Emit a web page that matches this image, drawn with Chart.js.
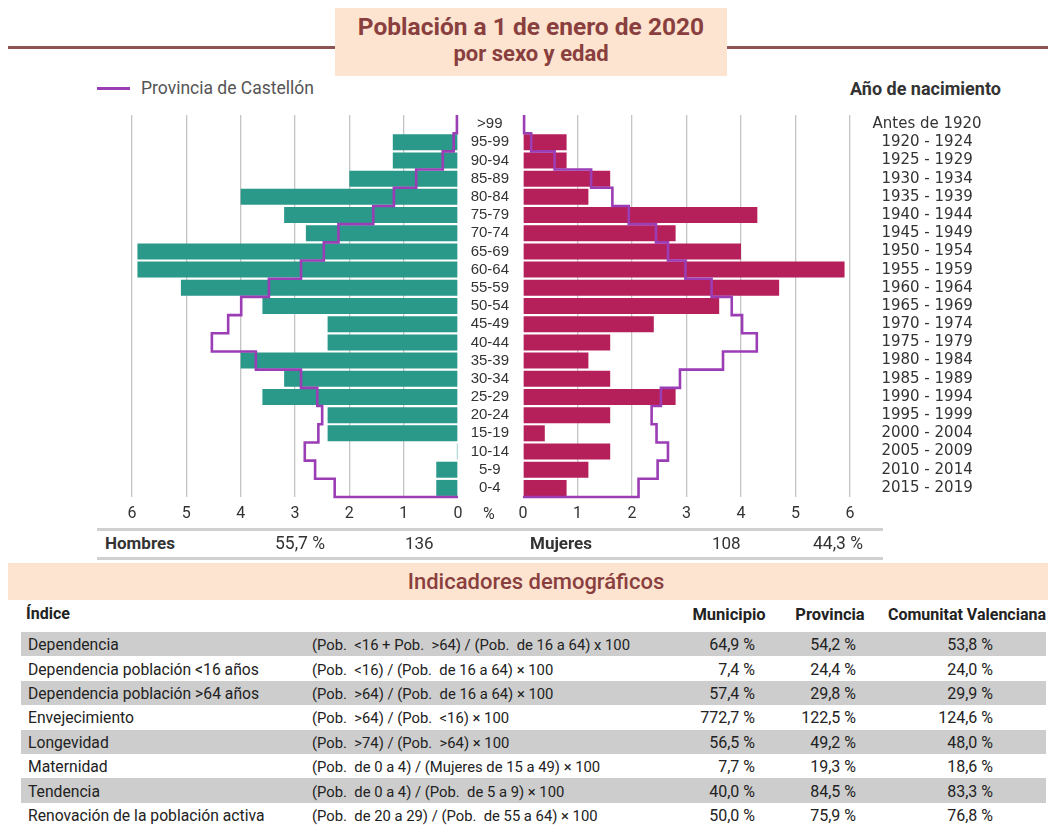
<!DOCTYPE html>
<html lang="es">
<head>
<meta charset="utf-8">
<title>Población a 1 de enero de 2020</title>
<script src="https://cdn.jsdelivr.net/npm/chart.js@4.4.1/dist/chart.umd.min.js"></script>
<style>
  body { margin: 0; background: #fff; font-family: Roboto, "Liberation Sans", sans-serif; color: #333; }
  #page { position: relative; width: 1051px; height: 825px; overflow: hidden; }
  .abs { position: absolute; white-space: pre; }
  .mid { transform: translateY(-50%); }
  #titlebox { position: absolute; left: 335px; top: 8px; width: 392px; height: 68px; background: #fde4d0; text-align: center; color: #8a3f3f; font-weight: bold; }
  canvas { position: absolute; top: 100px; }
  .row { position: absolute; left: 21px; width: 1025px; height: 24.4px; }
  .row.gray { background: #cdcdcd; }
  .cell { position: absolute; top: 50%; transform: translateY(-45%); white-space: pre; color: #222; }
</style>
</head>
<body>
<div id="page">
  <div class="abs" style="left:8px; top:46px; width:1040px; height:3px; background:#8e5454"></div>
  <div id="titlebox">
    <div style="font-size:24.5px; margin-top:4px; line-height:30px">Población a 1 de enero de 2020</div>
    <div style="font-size:22px; line-height:24px">por sexo y edad</div>
  </div>

  <div class="abs" style="left:97px; top:87px; width:33px; height:3px; background:#9b3db5"></div>
  <div class="abs mid" style="left:141px; top:88px; font-size:17.5px; color:#555">Provincia de Castellón</div>
  <div class="abs mid" style="left:850px; top:88px; font-size:18px; font-weight:bold; color:#333">Año de nacimiento</div>

  <canvas id="hombres" width="470" height="430" style="left:0"></canvas>
  <canvas id="mujeres" width="591" height="430" style="left:460px"></canvas>

  <div class="abs mid" style="left:483px; top:513px; font-size:16px; color:#333">%</div>

  <div class="abs" style="left:97px; top:528px; width:786px; height:3px; background:#d0d0d0"></div>
  <div class="abs" style="left:97px; top:557px; width:786px; height:3px; background:#d0d0d0"></div>
  <div class="abs mid" style="left:105px; top:543px; font-size:17px; font-weight:bold">Hombres</div>
  <div class="abs mid" style="left:275px; top:543px; font-size:17.5px">55,7 %</div>
  <div class="abs mid" style="left:405px; top:543px; font-size:17px">136</div>
  <div class="abs mid" style="left:530px; top:543px; font-size:17px; font-weight:bold">Mujeres</div>
  <div class="abs mid" style="left:712px; top:543px; font-size:17px">108</div>
  <div class="abs mid" style="left:813px; top:543px; font-size:17.5px">44,3 %</div>

  <div class="abs" style="left:8px; top:563px; width:1040px; height:37px; background:#fde4d0"></div>
  <div class="abs mid" style="left:0; width:1072px; text-align:center; top:581px; font-size:22px; font-weight:500; color:#8a3f3f">Indicadores demográficos</div>

  <div class="abs mid" style="left:26px; top:613px; font-size:16px; font-weight:bold; color:#222">Índice</div>
  <div class="abs mid" style="left:689px; width:80px; text-align:center; top:614px; font-size:16.5px; font-weight:bold; color:#222">Municipio</div>
  <div class="abs mid" style="left:790px; width:80px; text-align:center; top:614px; font-size:16.5px; font-weight:bold; color:#222">Provincia</div>
  <div class="abs mid" style="left:887px; width:160px; text-align:center; top:614px; font-size:16px; font-weight:bold; color:#222">Comunitat Valenciana</div>
  <div id="tabla"></div>
</div>

<script>
// grupos de edad (de arriba abajo) y años de nacimiento
var ageGroups = ['>99', '95-99', '90-94', '85-89', '80-84', '75-79', '70-74', '65-69', '60-64', '55-59', '50-54',
                 '45-49', '40-44', '35-39', '30-34', '25-29', '20-24', '15-19', '10-14', '5-9', '0-4'];
var birthYears = ['Antes de 1920', '1920 - 1924', '1925 - 1929', '1930 - 1934', '1935 - 1939', '1940 - 1944',
                  '1945 - 1949', '1950 - 1954', '1955 - 1959', '1960 - 1964', '1965 - 1969', '1970 - 1974',
                  '1975 - 1979', '1980 - 1984', '1985 - 1989', '1990 - 1994', '1995 - 1999', '2000 - 2004',
                  '2005 - 2009', '2010 - 2014', '2015 - 2019'];

// % municipio
var hombres = [0, 1.2, 1.2, 2.0, 4.0, 3.2, 2.8, 5.9, 5.9, 5.1, 3.6, 2.4, 2.4, 4.0, 3.2, 3.6, 2.4, 2.4, 0.02, 0.4, 0.4];
var mujeres = [0, 0.8, 0.8, 1.6, 1.2, 4.3, 2.8, 4.0, 5.9, 4.7, 3.6, 2.4, 1.6, 1.2, 1.6, 2.8, 1.6, 0.4, 1.6, 1.2, 0.8];

// % Provincia de Castellón
var provHombres = [0.02, 0.08, 0.28, 0.77, 1.18, 1.56, 2.2, 2.47, 2.89, 3.48, 3.99, 4.23, 4.53, 3.72, 2.89, 2.59, 2.5, 2.57, 2.82, 2.63, 2.27];
var provMujeres = [0.02, 0.15, 0.58, 1.25, 1.64, 1.94, 2.44, 2.66, 2.98, 3.46, 3.83, 4.02, 4.29, 3.67, 2.88, 2.53, 2.36, 2.45, 2.66, 2.47, 2.12];

var xTicks = [0, 1, 2, 3, 4, 5, 6];

// tabla de indicadores
var indices = ['Dependencia', 'Dependencia población <16 años', 'Dependencia población >64 años', 'Envejecimiento',
               'Longevidad', 'Maternidad', 'Tendencia', 'Renovación de la población activa'];
var formulas = ['(Pob.  <16 + Pob.  >64) / (Pob.  de 16 a 64) x 100', '(Pob.  <16) / (Pob.  de 16 a 64) × 100',
                '(Pob.  >64) / (Pob.  de 16 a 64) × 100', '(Pob.  >64) / (Pob.  <16) × 100',
                '(Pob.  >74) / (Pob.  >64) × 100', '(Pob.  de 0 a 4) / (Mujeres de 15 a 49) × 100',
                '(Pob.  de 0 a 4) / (Pob.  de 5 a 9) × 100', '(Pob.  de 20 a 29) / (Pob.  de 55 a 64) × 100'];
var municipio = ['64,9 %', '7,4 %', '57,4 %', '772,7 %', '56,5 %', '7,7 %', '40,0 %', '50,0 %'];
var provincia = ['54,2 %', '24,4 %', '29,8 %', '122,5 %', '49,2 %', '19,3 %', '84,5 %', '75,9 %'];
var comunitat = ['53,8 %', '24,0 %', '29,9 %', '124,6 %', '48,0 %', '18,6 %', '83,3 %', '76,8 %'];

var teal = '#2a998a', magenta = '#b6205a', purple = '#9b3db5';

Chart.defaults.font.family = 'Roboto';
Chart.defaults.animation = false;
Chart.defaults.plugins.legend.display = false;
Chart.defaults.plugins.tooltip.enabled = false;

// escalones verticales: cada grupo ocupa su banda completa
function stepPoints(values) {
    var pts = [];
    values.forEach(function (v, i) {
        pts.push({ x: v, y: i - 0.5 });
        pts.push({ x: v, y: i + 0.5 });
    });
    pts.push({ x: 0, y: values.length - 0.5 });
    return pts;
}

function xScale(reverse) {
    return {
        type: 'linear', reverse: reverse, min: xTicks[0], max: xTicks[xTicks.length - 1],
        afterBuildTicks: function (s) { s.ticks = xTicks.map(function (v) { return { value: v }; }); },
        ticks: { font: { size: 16 }, color: '#333', padding: 7 },
        grid: {
            drawTicks: false, lineWidth: 1.3,
            color: function (ctx) { return ctx.tick && ctx.tick.value === 0 ? 'rgba(0,0,0,0)' : '#c4c4c4'; }
        },
        border: { display: false },
        afterFit: function (s) { s.height = 33; }
    };
}

// las etiquetas de los ejes verticales no deben empujar el área del gráfico
function fixWidth(w) {
    return function (s) { s.width = w; s.paddingTop = 0; s.paddingBottom = 0; };
}

function lineScale() {
    return { type: 'linear', display: false, offset: false, min: -0.5, max: ageGroups.length - 0.5, reverse: true };
}

function datasets(values, prov, color) {
    return [
        { type: 'line', data: stepPoints(prov), borderColor: purple, borderWidth: 2.6, pointRadius: 0,
          yAxisID: 'yLine', xAxisID: 'x', order: 0, clip: 4, borderJoinStyle: 'miter' },
        { type: 'bar', data: values, backgroundColor: color, barPercentage: 0.88, categoryPercentage: 1,
          grouped: false, yAxisID: 'y', xAxisID: 'x', order: 1 }
    ];
}

new Chart(document.getElementById('hombres'), {
    type: 'bar',
    data: { labels: ageGroups, datasets: datasets(hombres, provHombres, teal) },
    options: {
        responsive: false, devicePixelRatio: 1, indexAxis: 'y',
        layout: { padding: { left: 132, right: 12, top: 15, bottom: 0 } },
        scales: {
            x: xScale(true),
            y: { type: 'category', display: false, offset: true },
            yLine: lineScale()
        }
    }
});

new Chart(document.getElementById('mujeres'), {
    type: 'bar',
    data: { labels: ageGroups, datasets: datasets(mujeres, provMujeres, magenta) },
    options: {
        responsive: false, devicePixelRatio: 1, indexAxis: 'y',
        layout: { padding: { left: 0, right: 0, top: 15, bottom: 0 } },
        scales: {
            x: xScale(false),
            y: {
                type: 'category', position: 'left', offset: true,
                grid: { display: false, drawTicks: false }, border: { display: false },
                ticks: { autoSkip: false, font: { family: 'Liberation Sans', size: 15 }, color: '#333', crossAlign: 'center', padding: 14 },
                afterFit: fixWidth(63)
            },
            years: {
                type: 'category', position: 'right', labels: birthYears, offset: true,
                grid: { display: false, drawTicks: false }, border: { display: false },
                ticks: { autoSkip: false, font: { family: 'DejaVu Sans', size: 15 }, color: '#333', crossAlign: 'center', padding: 22.5 },
                afterFit: fixWidth(201)
            },
            yLine: lineScale()
        }
    }
});

// filas de la tabla
var tabla = document.getElementById('tabla');
indices.forEach(function (name, i) {
    var row = document.createElement('div');
    row.className = 'row' + (i % 2 === 0 ? ' gray' : '');
    row.style.top = (632 + i * 24.4) + 'px';
    row.innerHTML =
        '<div class="cell" style="left:7px; font-size:15.7px"></div>' +
        '<div class="cell" style="left:291px; font-size:14.8px"></div>' +
        '<div class="cell" style="right:291px; font-size:16px"></div>' +
        '<div class="cell" style="right:190px; font-size:16px"></div>' +
        '<div class="cell" style="right:53px; font-size:16px"></div>';
    var cells = row.children;
    cells[0].textContent = name;
    cells[1].textContent = formulas[i];
    cells[2].textContent = municipio[i];
    cells[3].textContent = provincia[i];
    cells[4].textContent = comunitat[i];
    tabla.appendChild(row);
});
</script>
</body>
</html>
